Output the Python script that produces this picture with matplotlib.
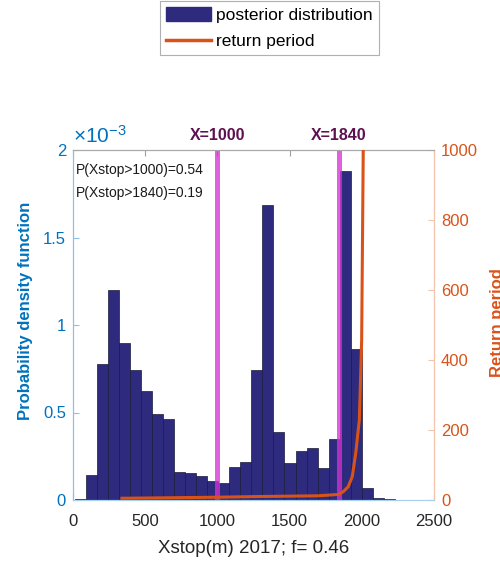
import numpy as np
import matplotlib
matplotlib.use("Agg")
import matplotlib.pyplot as plt
from matplotlib.patches import Patch
from matplotlib.lines import Line2D
from matplotlib.transforms import offset_copy

plt.rcParams['font.family'] = ['Liberation Sans', 'DejaVu Sans']
plt.rcParams['mathtext.fontset'] = 'custom'
plt.rcParams['mathtext.rm'] = 'Liberation Sans'

# Histogram of the posterior (density, in units of 1e-3)
bin_edges = np.linspace(14, 2228, 30)
density_e3 = [0.006, 0.142, 0.777, 1.20, 0.90, 0.744, 0.625, 0.494, 0.464, 0.161,
              0.155, 0.136, 0.108, 0.100, 0.19, 0.22, 0.744, 1.686, 0.388, 0.214,
              0.278, 0.30, 0.182, 0.35, 1.88, 0.864, 0.068, 0.010, 0.004]

# Return period curve
rp_x = [339, 700, 1000, 1300, 1700, 1840, 1872, 1906, 1934, 1958, 1983, 1999, 2010, 2016]
rp_y = [5, 6.5, 8, 10, 12, 16, 24, 38, 67, 134, 229, 457, 1000, 1150]

thresholds = [1000, 1840]
exceed_prob = [0.54, 0.19]

xlabel = "Xstop(m) 2017; f= 0.46"

BLUE = '#0072BD'
ORANGE = '#D95319'
NAVY = '#2E2A7E'
MAGENTA = '#D731D6'
GRAY = '#262626'

fig = plt.figure(figsize=(5.0, 5.62), dpi=100)
ax = fig.add_axes([73/500, 1 - 500/562, (434 - 73)/500, (500 - 150)/562])
ax2 = ax.twinx()

centers = (bin_edges[:-1] + bin_edges[1:]) / 2
widths = np.diff(bin_edges)
ax.bar(centers, np.array(density_e3) * 1e-3, width=widths, color=NAVY,
       edgecolor='#1a1a3a', linewidth=0.5, zorder=2)

for t in thresholds:
    ax.axvline(t, color=MAGENTA, alpha=0.77, linewidth=3.6, zorder=3)
    tr = offset_copy(ax.transData, fig=fig, x=0, y=7, units='dots')
    ax.text(t, 2.0e-3, f"X={t}", ha='center', va='bottom', fontsize=11.5,
            fontweight='bold', color='#5E1150', transform=tr, clip_on=False)

for i, (t, p) in enumerate(zip(thresholds, exceed_prob)):
    ax.text(0.008, 0.943 - i * 0.066, f"P(Xstop>{t})={p:.2f}", transform=ax.transAxes,
            ha='left', va='center', fontsize=10, color='#1a1a1a')

ax2.plot(rp_x, rp_y, color=ORANGE, linewidth=2.2, zorder=4)

ax.set_xlim(0, 2500)
ax.set_ylim(0, 2e-3)
ax2.set_ylim(0, 1000)
ax.set_xticks([0, 500, 1000, 1500, 2000, 2500])
ax.set_yticks([0, 0.5e-3, 1e-3, 1.5e-3, 2e-3])
ax.set_yticklabels(['0', '0.5', '1', '1.5', '2'])
ax2.set_yticks([0, 200, 400, 600, 800, 1000])

ax.tick_params(axis='x', direction='in', length=4, colors='#a0a0a0',
               labelcolor=GRAY, labelsize=12, top=True, pad=10)
ax.tick_params(axis='y', direction='in', length=4, colors='#8cc0e6',
               labelcolor=BLUE, labelsize=12, pad=5)
ax2.tick_params(axis='y', direction='in', length=4, colors='#f2c4ad',
                labelcolor=ORANGE, labelsize=12, pad=5)

for a in (ax, ax2):
    a.spines['top'].set_color('#a8a8a8')
    a.spines['bottom'].set_color('#a9d0ec')
    a.spines['left'].set_color('#8cc0e6')
    a.spines['right'].set_color('#f2c4ad')
    for s in a.spines.values():
        s.set_linewidth(0.8)

ax.set_xlabel(xlabel, fontsize=13.5, color=GRAY, labelpad=8)

fig.text(73/500, 1 - 136/562, r'$\mathrm{\times 10^{-3}}$', color=BLUE, fontsize=15,
         ha='left', va='center')

fig.text(26/500, 1 - 311/562, 'Probability density function', rotation=90,
         ha='center', va='center', fontsize=12, fontweight='bold', color=BLUE)
fig.text(490/500, 1 - 323/562, 'Return period', rotation=90,
         ha='left', va='center', fontsize=12, fontweight='bold', color=ORANGE)

handles = [Patch(facecolor=NAVY, edgecolor=NAVY),
           Line2D([0], [0], color=ORANGE, linewidth=2.5)]
leg = fig.legend(handles, ['posterior distribution', 'return period'],
                 loc='upper left', bbox_to_anchor=(160/500, 1 - 0.5/562),
                 fontsize=12.5, frameon=True, fancybox=False, framealpha=1,
                 edgecolor='#b0b0b0', handlelength=2.6, handleheight=0.87,
                 handletextpad=0.3, labelspacing=0.6, borderpad=0.35,
                 borderaxespad=0)
leg.get_frame().set_linewidth(0.8)

fig.savefig('out.png', dpi=100)
